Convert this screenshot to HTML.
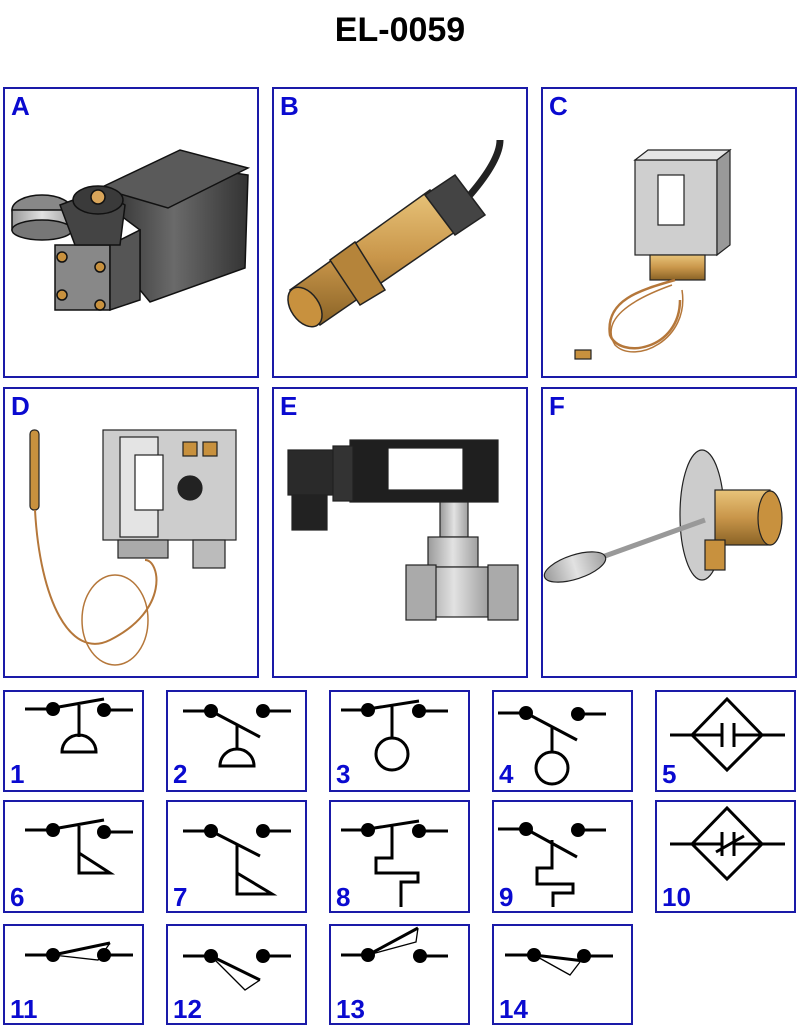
<!DOCTYPE html>
<html><head><meta charset="utf-8"><style>
html,body{margin:0;padding:0;background:#fff;width:800px;height:1034px;overflow:hidden}
svg{display:block}
</style></head><body>
<svg width="800" height="1034" viewBox="0 0 800 1034" xmlns="http://www.w3.org/2000/svg" font-family="Liberation Sans, Arial, sans-serif">
<defs>
<linearGradient id="dk" x1="0" x2="1"><stop offset="0" stop-color="#2a2a2a"/><stop offset=".5" stop-color="#6a6a6a"/><stop offset="1" stop-color="#333"/></linearGradient>
<linearGradient id="br" x1="0" x2="0" y1="0" y2="1"><stop offset="0" stop-color="#e8c47a"/><stop offset=".5" stop-color="#c9964a"/><stop offset="1" stop-color="#8a6326"/></linearGradient>
<linearGradient id="gr" x1="0" x2="1"><stop offset="0" stop-color="#9a9a9a"/><stop offset=".5" stop-color="#e2e2e2"/><stop offset="1" stop-color="#a0a0a0"/></linearGradient>
</defs>
<text x="400" y="41" text-anchor="middle" font-size="34" font-weight="bold">EL-0059</text>
<g fill="none" stroke="#1a1aa8" stroke-width="2">
<rect x="4" y="88" width="254" height="289"/><rect x="273" y="88" width="254" height="289"/><rect x="542" y="88" width="254" height="289"/>
<rect x="4" y="388" width="254" height="289"/><rect x="273" y="388" width="254" height="289"/><rect x="542" y="388" width="254" height="289"/>
<rect x="4" y="691" width="139" height="100"/><rect x="167" y="691" width="139" height="100"/><rect x="330" y="691" width="139" height="100"/><rect x="493" y="691" width="139" height="100"/><rect x="656" y="691" width="139" height="100"/>
<rect x="4" y="801" width="139" height="111"/><rect x="167" y="801" width="139" height="111"/><rect x="330" y="801" width="139" height="111"/><rect x="493" y="801" width="139" height="111"/><rect x="656" y="801" width="139" height="111"/>
<rect x="4" y="925" width="139" height="99"/><rect x="167" y="925" width="139" height="99"/><rect x="330" y="925" width="139" height="99"/><rect x="493" y="925" width="139" height="99"/>
</g>
<g fill="#0a0ad0" font-weight="bold" font-size="26">
<text x="11" y="115">A</text><text x="280" y="115">B</text><text x="549" y="115">C</text>
<text x="11" y="415">D</text><text x="280" y="415">E</text><text x="549" y="415">F</text>
<text x="10" y="783">1</text><text x="173" y="783">2</text><text x="336" y="783">3</text><text x="499" y="783">4</text><text x="662" y="783">5</text>
<text x="10" y="906">6</text><text x="173" y="906">7</text><text x="336" y="906">8</text><text x="499" y="906">9</text><text x="662" y="906">10</text>
<text x="10" y="1018">11</text><text x="173" y="1018">12</text><text x="336" y="1018">13</text><text x="499" y="1018">14</text>
</g>
<!-- A -->
<g stroke="#111" stroke-width="1.5">
<polygon points="140,230 140,290 150,302 245,268 248,175 180,165 100,200" fill="url(#dk)"/>
<polygon points="100,188 180,150 248,168 168,208" fill="#5a5a5a"/>
<rect x="55" y="245" width="55" height="65" fill="#888"/>
<polygon points="110,245 140,230 140,300 110,310" fill="#555"/>
<ellipse cx="42" cy="210" rx="30" ry="15" fill="#888"/><rect x="12" y="210" width="60" height="20" fill="url(#gr)"/><ellipse cx="42" cy="230" rx="30" ry="10" fill="#777"/>
<polygon points="60,205 100,190 125,205 120,245 75,245" fill="#444"/>
<ellipse cx="98" cy="200" rx="25" ry="14" fill="#3a3a3a"/>
<circle cx="98" cy="197" r="7" fill="#d9a55a"/>
<circle cx="62" cy="257" r="5" fill="#c8913e"/><circle cx="100" cy="267" r="5" fill="#c8913e"/><circle cx="62" cy="295" r="5" fill="#c8913e"/><circle cx="100" cy="305" r="5" fill="#c8913e"/>
</g>
<!-- B -->
<g stroke="#222" stroke-width="1.5">
<path d="M470,195 Q500,160 500,140" fill="none" stroke="#222" stroke-width="7"/>
<polygon points="290,290 430,190 465,225 320,325" fill="url(#br)"/>
<ellipse cx="305" cy="307" rx="14" ry="22" transform="rotate(-35 305 307)" fill="#c8913e"/>
<polygon points="330,260 355,242 385,290 360,305" fill="#b5843a"/>
<polygon points="425,195 455,175 485,215 455,235" fill="#444"/>
</g>
<!-- C -->
<g stroke="#222" stroke-width="1.2">
<rect x="635" y="160" width="82" height="95" fill="#cfcfcf"/>
<polygon points="717,160 730,150 730,245 717,255" fill="#999"/>
<polygon points="635,160 648,150 730,150 717,160" fill="#e5e5e5"/>
<rect x="658" y="175" width="26" height="50" fill="#fff"/>
<rect x="650" y="255" width="55" height="25" fill="url(#br)"/>
<path d="M675,280 C640,290 605,300 610,335 C620,360 680,350 680,300" fill="none" stroke="#b5773a" stroke-width="2.5"/>
<path d="M672,285 C630,300 600,320 615,345 C635,365 690,340 682,290" fill="none" stroke="#b5773a" stroke-width="1.5"/>
<rect x="575" y="350" width="16" height="9" fill="#c8913e"/>
</g>
<!-- D -->
<g stroke="#222" stroke-width="1.2">
<rect x="103" y="430" width="133" height="110" fill="#cdcdcd"/>
<rect x="120" y="437" width="38" height="100" fill="#e4e4e4"/>
<rect x="135" y="455" width="28" height="55" fill="#fff"/>
<circle cx="190" cy="488" r="12" fill="#222"/>
<rect x="183" y="442" width="14" height="14" fill="#c8913e"/><rect x="203" y="442" width="14" height="14" fill="#c8913e"/>
<rect x="118" y="540" width="50" height="18" fill="#aaa"/>
<rect x="193" y="540" width="32" height="28" fill="#bbb"/>
<rect x="30" y="430" width="9" height="80" rx="4" fill="#c8913e"/>
<path d="M35,510 C40,600 70,660 110,640 C170,610 160,560 145,560" fill="none" stroke="#b5773a" stroke-width="2"/>
<ellipse cx="115" cy="620" rx="33" ry="45" fill="none" stroke="#b5773a" stroke-width="1.5"/>
</g>
<!-- E -->
<g stroke="#222" stroke-width="1.2">
<rect x="350" y="440" width="148" height="62" fill="#1f1f1f"/>
<rect x="388" y="448" width="75" height="42" fill="#fff"/>
<rect x="288" y="450" width="45" height="45" fill="#2a2a2a"/>
<rect x="333" y="446" width="20" height="55" fill="#333"/>
<rect x="292" y="495" width="35" height="35" fill="#222"/>
<rect x="440" y="502" width="28" height="35" fill="url(#gr)"/>
<rect x="428" y="537" width="50" height="30" fill="url(#gr)"/>
<rect x="420" y="567" width="68" height="50" fill="url(#gr)"/>
<rect x="406" y="565" width="30" height="55" fill="#aaa"/><rect x="488" y="565" width="30" height="55" fill="#aaa"/>
</g>
<!-- F -->
<g stroke="#222" stroke-width="1.2">
<ellipse cx="702" cy="515" rx="22" ry="65" fill="#ccc"/>
<line x1="580" y1="565" x2="705" y2="520" stroke="#999" stroke-width="5"/>
<ellipse cx="575" cy="567" rx="32" ry="12" transform="rotate(-18 575 567)" fill="url(#gr)"/>
<rect x="715" y="490" width="55" height="55" fill="url(#br)"/>
<ellipse cx="770" cy="518" rx="12" ry="27" fill="#c8913e"/>
<rect x="705" y="540" width="20" height="30" fill="#c8913e"/>
</g>
<!-- symbols -->
<g stroke="#000" stroke-width="3" fill="none">
<path d="M25,709H53M104,710H133M53,708L104,699M79,705V737"/><path d="M62,752H96A17,17 0 0 0 62,752Z"/>
<path d="M183,711H211M263,711H291M211,711L260,737M237,724V750"/><path d="M220,766H254A17,17 0 0 0 220,766Z"/>
<path d="M341,710H368M418,711H448M368,709L419,701M392,706V738"/><circle cx="392" cy="754" r="16"/>
<path d="M498,713H526M578,714H606M526,713L577,740M552,727V752"/><circle cx="552" cy="768" r="16"/>
<path d="M670,735H692L727,699L762,735L727,770L692,735M762,735H785M692,735H722M734,735H762M722,723V747M734,723V747"/>
<path d="M25,830H53M104,832H133M53,829L104,820M79,826V873L110,873L79,853"/>
<path d="M183,831H211M263,831H291M211,831L260,856M237,844V894L272,894L237,873"/>
<path d="M341,830H368M418,831H448M368,829L419,821M392,826V858H376V873H418V882H401V907"/>
<path d="M498,829H526M578,830H606M526,829L577,857M552,840V868H537V884H573V893H553V907"/>
<path d="M670,844H692L727,808L762,844L727,879L692,844M762,844H785M692,844H722M734,844H762M722,832V856M734,832V856M716,852L744,836"/>
<path d="M25,955H53M104,955H133M53,955L110,943"/><path d="M53,955L98,960L110,943" stroke-width="1.3"/>
<path d="M183,956H211M263,956H291M211,956L260,980"/><path d="M211,956L245,990L260,980" stroke-width="1.3"/>
<path d="M341,955H368M420,956H448M368,955L418,928"/><path d="M368,955L416,942L418,928" stroke-width="1.3"/>
<path d="M505,955H534M584,956H613M534,955L584,961"/><path d="M534,955L570,975L580,962" stroke-width="1.3"/>
</g>
<g fill="#000">
<circle cx="53" cy="709" r="7"/><circle cx="104" cy="710" r="7"/>
<circle cx="211" cy="711" r="7"/><circle cx="263" cy="711" r="7"/>
<circle cx="368" cy="710" r="7"/><circle cx="419" cy="711" r="7"/>
<circle cx="526" cy="713" r="7"/><circle cx="578" cy="714" r="7"/>
<circle cx="53" cy="830" r="7"/><circle cx="104" cy="832" r="7"/>
<circle cx="211" cy="831" r="7"/><circle cx="263" cy="831" r="7"/>
<circle cx="368" cy="830" r="7"/><circle cx="419" cy="831" r="7"/>
<circle cx="526" cy="829" r="7"/><circle cx="578" cy="830" r="7"/>
<circle cx="53" cy="955" r="7"/><circle cx="104" cy="955" r="7"/>
<circle cx="211" cy="956" r="7"/><circle cx="263" cy="956" r="7"/>
<circle cx="368" cy="955" r="7"/><circle cx="420" cy="956" r="7"/>
<circle cx="534" cy="955" r="7"/><circle cx="584" cy="956" r="7"/>
</g>
</svg>
</body></html>
